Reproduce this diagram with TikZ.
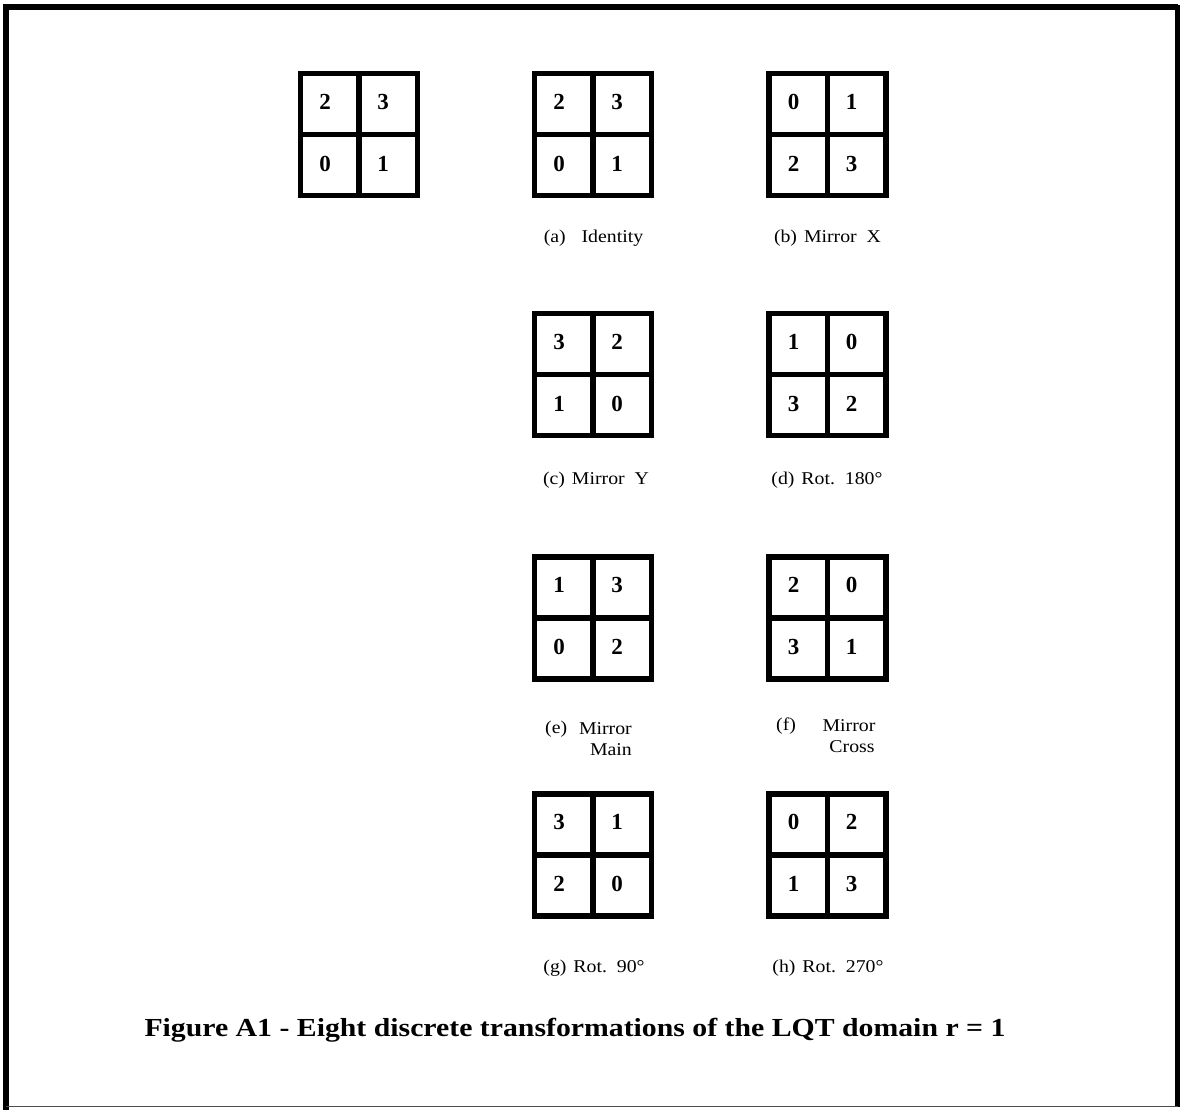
\documentclass[tikz,border=0pt]{standalone}
\usepackage{fontspec}
\setmainfont{Liberation Serif}
\newcommand\qgrid[7]{%
  \draw[gridline] (#2-58.5,#3-61) rectangle (#2+58.5,#3+61);
  \draw[gridline] (#2,#3-61) -- (#2,#3+61) (#2-58.5,#3) -- (#2+58.5,#3);
  \node[digit] (#1tl) at (#2-34,#3-33) {#4};
  \node[digit] (#1tr) at (#2+24,#3-33) {#5};
  \node[digit] (#1bl) at (#2-34,#3+29) {#6};
  \node[digit] (#1br) at (#2+24,#3+29) {#7};
}
\newcommand\wl[1]{\scalebox{1.1}[1]{#1}}
\begin{document}
\begin{tikzpicture}[x=1pt,y=-1pt,
  gridline/.style={line width=5.5pt,line join=miter},
  digit/.style={font=\fontsize{23}{23}\selectfont\bfseries,inner sep=0pt},
  lbl/.style={font=\fontsize{18}{18}\selectfont,inner sep=0pt},
  captext/.style={font=\fontsize{26}{26}\selectfont\bfseries,inner sep=0pt}]
\useasboundingbox (0,0) rectangle (1181,1110);
% frame
\draw[line width=6pt] (6,1110) -- (6,7.5) -- (1177.5,7.5);
\draw[line width=5pt] (1177.5,5) -- (1177.5,1107);
\draw[line width=1.5pt,black!70] (6,1106.5) -- (1177.5,1106.5);
% grids
\qgrid{o}{359}{134.5}{2}{3}{0}{1}
\qgrid{a}{593}{134.5}{2}{3}{0}{1}
\qgrid{b}{827.5}{134.5}{0}{1}{2}{3}
\qgrid{c}{593}{374.5}{3}{2}{1}{0}
\qgrid{d}{827.5}{374.5}{1}{0}{3}{2}
\qgrid{e}{593}{618}{1}{3}{0}{2}
\qgrid{f}{827.5}{618}{2}{0}{3}{1}
\qgrid{g}{593}{855}{3}{1}{2}{0}
\qgrid{h}{827.5}{855}{0}{2}{1}{3}
% labels
\node[lbl] (la) at (593.5,238) {\wl{(a)\hspace{0.8em}Identity}};
\node[lbl] (lb) at (827.5,238) {\wl{(b)\hspace{0.35em}Mirror\hspace{0.5em}X}};
\node[lbl] (lc) at (596,480) {\wl{(c)\hspace{0.35em}Mirror\hspace{0.5em}Y}};
\node[lbl] (ld) at (827,480) {\wl{(d)\hspace{0.35em}Rot.\hspace{0.5em}180°}};
\node[lbl,anchor=west] (le1) at (545,729) {\wl{(e)}};
\node[lbl,anchor=east] (le2) at (632,729) {\wl{Mirror}};
\node[lbl,anchor=east] (le3) at (632,750) {\wl{Main}};
\node[lbl,anchor=west] (lf1) at (776,726) {\wl{(f)}};
\node[lbl] (lf2) at (849,726) {\wl{Mirror}};
\node[lbl] (lf3) at (852,747) {\wl{Cross}};
\node[lbl] (lg) at (594,968) {\wl{(g)\hspace{0.35em}Rot.\hspace{0.5em}90°}};
\node[lbl] (lh) at (828,968) {\wl{(h)\hspace{0.35em}Rot.\hspace{0.5em}270°}};
% caption
\node[captext] (caption) at (575,1030) {\scalebox{1.145}[1]{Figure A1 - Eight discrete transformations of the LQT domain r = 1}};
\end{tikzpicture}
\end{document}
